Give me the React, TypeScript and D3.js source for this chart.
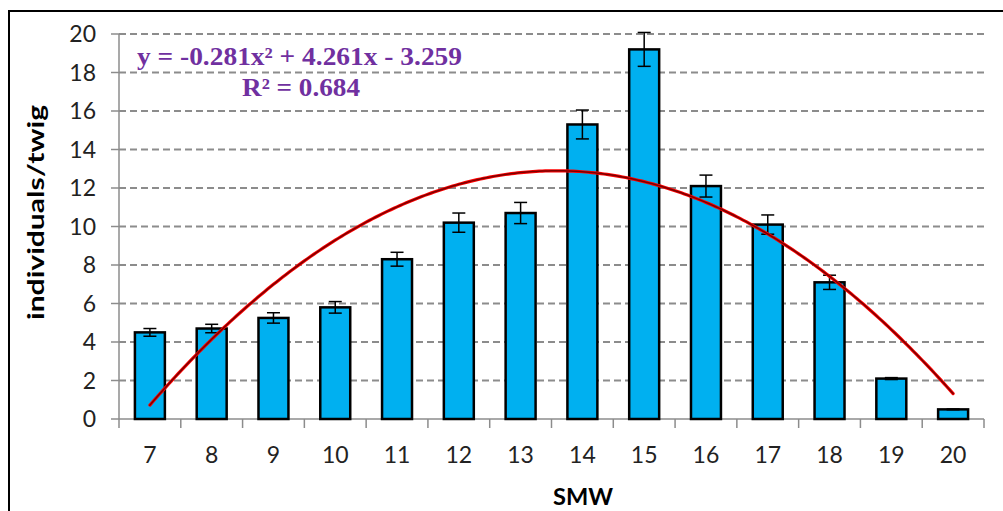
import React from "react";
import * as d3 from "d3";

const categories: string[] = ["7", "8", "9", "10", "11", "12", "13", "14", "15", "16", "17", "18", "19", "20"];
const values: number[] = [4.5, 4.7, 5.25, 5.8, 8.3, 10.2, 10.7, 15.3, 19.2, 12.1, 10.1, 7.1, 2.1, 0.5];
const errors: number[] = [0.2, 0.22, 0.27, 0.3, 0.36, 0.5, 0.55, 0.75, 0.88, 0.57, 0.5, 0.37, 0.05, 0.02];
const yTicks: number[] = [0, 2, 4, 6, 8, 10, 12, 14, 16, 18, 20];
// polynomial trendline coefficients shown on the chart: y = a x^2 + b x + c
const trendA = -0.281;
const trendB = 4.261;
const trendC = -3.259;
const equationText = "y = -0.281x² + 4.261x - 3.259";
const r2Text = "R² = 0.684";
const xTitle = "SMW";
const yTitle = "individuals/twig";

const W = 1003;
const H = 511;
const left = 119;
const right = 984;
const top = 34;
const bottom = 419;

export default function App() {
  const x = d3.scaleBand<string>().domain(categories).range([left, right]).padding(0);
  const y = d3.scaleLinear().domain([0, 20]).range([bottom, top]);
  const bw = x.bandwidth() * 0.485;
  const idx = d3.scaleLinear().domain([1, categories.length]).range([
    (x(categories[0]) as number) + x.bandwidth() / 2,
    (x(categories[categories.length - 1]) as number) + x.bandwidth() / 2,
  ]);
  const samples = d3.range(1, categories.length + 0.0001, 0.05);
  const line = d3
    .line<number>()
    .x((t) => idx(t))
    .y((t) => y(trendA * t * t + trendB * t + trendC))
    .curve(d3.curveLinear);
  const path = line(samples) || "";
  const tickFont = "Lato, 'Open Sans', sans-serif";
  const serif = "'Liberation Serif', 'Times New Roman', serif";
  const boundaries = categories.map((c) => x(c) as number).concat([right]);

  return (
    <svg width={W} height={H} style={{ position: "absolute", left: 0, top: 0, background: "#fff" }}>
      <rect x={0} y={0} width={W} height={H} fill="#fff" />
      <rect x={9} y={11} width={1010} height={520} fill="none" stroke="#000" strokeWidth={2} />
      {/* gridlines */}
      {yTicks.map((t) =>
        t === 0 ? null : (
          <line
            key={"g" + t}
            x1={left}
            x2={right}
            y1={y(t)}
            y2={y(t)}
            stroke="#8c8c8c"
            strokeWidth={2}
            strokeDasharray="7,4"
          />
        )
      )}
      {/* y axis */}
      <line x1={left} x2={left} y1={top} y2={bottom} stroke="#8c8c8c" strokeWidth={1.5} />
      {yTicks.map((t) => (
        <g key={"yt" + t}>
          <line x1={left - 8} x2={left} y1={y(t)} y2={y(t)} stroke="#8c8c8c" strokeWidth={1.5} />
          <text
            x={96}
            y={y(t)}
            dy="0.36em"
            textAnchor="end"
            fontFamily={tickFont}
            fontSize={23}
            fill="#222"
          >
            {t}
          </text>
        </g>
      ))}
      {/* x axis */}
      <line x1={left} x2={right} y1={bottom} y2={bottom} stroke="#8c8c8c" strokeWidth={1.5} />
      {boundaries.map((bx, i) => (
        <line key={"xt" + i} x1={bx} x2={bx} y1={bottom} y2={bottom + 9} stroke="#8c8c8c" strokeWidth={1.5} />
      ))}
      {categories.map((c) => (
        <text
          key={"xl" + c}
          x={(x(c) as number) + x.bandwidth() / 2}
          y={463}
          textAnchor="middle"
          fontFamily={tickFont}
          fontSize={23}
          fill="#222"
        >
          {c}
        </text>
      ))}
      {/* bars */}
      {categories.map((c, i) => {
        const cx = (x(c) as number) + x.bandwidth() / 2;
        return (
          <rect
            key={"b" + c}
            x={cx - bw / 2}
            y={y(values[i])}
            width={bw}
            height={y(0) - y(values[i])}
            fill="#00B0F0"
            stroke="#000"
            strokeWidth={2.5}
          />
        );
      })}
      {/* error bars */}
      {categories.map((c, i) => {
        const cx = (x(c) as number) + x.bandwidth() / 2;
        const hi = y(values[i] + errors[i]);
        const lo = y(values[i] - errors[i]);
        return (
          <g key={"e" + c} stroke="#000" strokeWidth={1.5}>
            <line x1={cx} x2={cx} y1={hi} y2={lo} />
            <line x1={cx - 6.5} x2={cx + 6.5} y1={hi} y2={hi} />
            <line x1={cx - 6.5} x2={cx + 6.5} y1={lo} y2={lo} />
          </g>
        );
      })}
      {/* trendline */}
      <path d={path} fill="none" stroke="#ff0000" strokeWidth={3.2} strokeLinecap="round" />
      <path d={path} fill="none" stroke="#7a0000" strokeWidth={1.5} strokeLinecap="round" />
      {/* equation */}
      <text
        x={137}
        y={65}
        fontFamily={serif}
        fontWeight="bold"
        fontSize={25}
        fill="#7030A0"
        textLength={325}
        lengthAdjust="spacingAndGlyphs"
      >
        {equationText}
      </text>
      <text
        x={242}
        y={96}
        fontFamily={serif}
        fontWeight="bold"
        fontSize={25}
        fill="#7030A0"
        textLength={118}
        lengthAdjust="spacingAndGlyphs"
      >
        {r2Text}
      </text>
      {/* axis titles */}
      <text
        x={553}
        y={505}
        fontFamily={tickFont}
        fontWeight="bold"
        fontSize={23}
        fill="#000"
        textLength={60}
        lengthAdjust="spacingAndGlyphs"
      >
        {xTitle}
      </text>
      <text
        transform={`translate(44,320) rotate(-90)`}
        fontFamily={tickFont}
        fontWeight="bold"
        fontSize={23}
        fill="#000"
        textLength={215}
        lengthAdjust="spacingAndGlyphs"
      >
        {yTitle}
      </text>
    </svg>
  );
}
